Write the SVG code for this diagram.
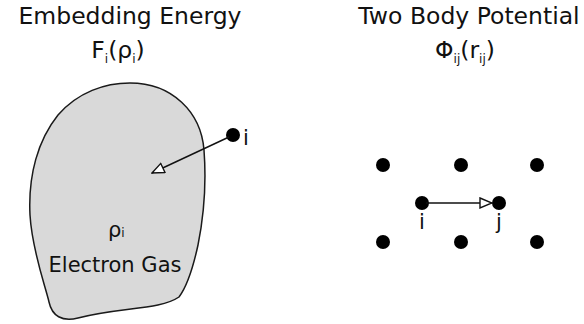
<svg xmlns="http://www.w3.org/2000/svg" width="584" height="324" viewBox="0 0 584 324">
<style>
text{font-family:"DejaVu Sans","Liberation Sans",sans-serif;fill:#111;}
.t{font-size:21px;}
.h{font-size:23.5px;}
.s{font-size:12px;}
.dot{fill:#000;}
.ln{stroke:#111;stroke-width:1.4;fill:none;}
</style>
<defs>
<marker id="open" viewBox="0 0 14 12" refX="13" refY="6" markerWidth="14" markerHeight="12" markerUnits="userSpaceOnUse" orient="auto">
<path d="M1,1 L13,6 L1,11 Z" fill="#fff" stroke="#111" stroke-width="1.4"/>
</marker>
</defs>
<rect width="584" height="324" fill="#fff"/>
<g id="title-left">
<text class="h" x="130" y="24" text-anchor="middle">Embedding Energy</text>
<text class="h" x="118" y="58" text-anchor="middle">F<tspan class="s" dy="5">i</tspan><tspan dy="-5">(ρ</tspan><tspan class="s" dy="5">i</tspan><tspan dy="-5">)</tspan></text>
</g>
<g id="title-right">
<text class="h" x="469" y="24" text-anchor="middle">Two Body Potential</text>
<text class="h" x="465" y="58" text-anchor="middle">Φ<tspan class="s" dy="5">ij</tspan><tspan dy="-5">(r</tspan><tspan class="s" dy="5">ij</tspan><tspan dy="-5">)</tspan></text>
</g>
<g id="electron-gas">
<path d="M130,83 C172,83 201,112 204,150 C207,190 203,220 198,245 C193,268 188,285 179,297 C160,310 120,307 78,318 C62,322 52,316 49,302 C45,285 32,250 30,215 C28,175 38,140 58,115 C78,92 105,83 130,83 Z" fill="#d9d9d9" stroke="#1a1a1a" stroke-width="1.5"/>
<text class="t" x="108" y="237">ρ<tspan class="s">i</tspan></text>
<text class="t" x="115" y="272" text-anchor="middle">Electron Gas</text>
</g>
<g id="atom-i-left">
<circle class="dot" cx="233" cy="135" r="7"/>
<text class="t" x="243" y="145">i</text>
</g>
<g id="lattice">
<circle class="dot" cx="383" cy="165" r="7"/>
<circle class="dot" cx="461" cy="165" r="7"/>
<circle class="dot" cx="537" cy="165" r="7"/>
<circle class="dot" cx="383" cy="242" r="7"/>
<circle class="dot" cx="461" cy="242" r="7"/>
<circle class="dot" cx="537" cy="242" r="7"/>
</g>
<g id="atom-i-right">
<circle class="dot" cx="422" cy="203" r="7"/>
<text class="t" x="422" y="229" text-anchor="middle">i</text>
</g>
<g id="atom-j">
<circle class="dot" cx="499" cy="203" r="7"/>
<text class="t" x="499" y="229" text-anchor="middle">j</text>
</g>
<g id="connectors">
<line class="ln" x1="229" y1="137" x2="152" y2="173" marker-end="url(#open)"/>
<line class="ln" x1="426" y1="203" x2="492" y2="203" marker-end="url(#open)"/>
</g>
</svg>
